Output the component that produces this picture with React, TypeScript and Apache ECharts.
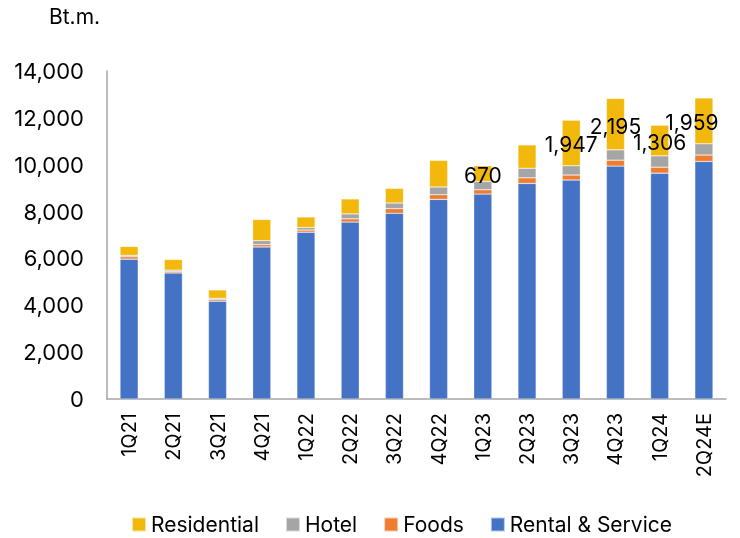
import React, { useEffect, useRef } from "react";
import * as echarts from "echarts";

const categories = ["1Q21", "2Q21", "3Q21", "4Q21", "1Q22", "2Q22", "3Q22", "4Q22", "1Q23", "2Q23", "3Q23", "4Q23", "1Q24", "2Q24E"];
const rentalService = [5970, 5380, 4175, 6490, 7120, 7550, 7925, 8520, 8745, 9200, 9345, 9940, 9640, 10140];
const foods = [100, 60, 70, 100, 90, 140, 200, 200, 185, 240, 213, 255, 255, 270];
const hotel = [60, 60, 55, 170, 110, 210, 240, 330, 355, 410, 397, 440, 483, 483];
const residential = [380, 455, 355, 900, 450, 640, 625, 1135, 670, 995, 1947, 2195, 1306, 1959];
const labeledCategories = ["1Q23", "3Q23", "4Q23", "1Q24", "2Q24E"];
const yTicks = { min: 0, max: 14000, interval: 2000 };
const unitLabel = "Bt.m.";

const FONT = "Inter, 'Noto Sans', sans-serif";
const COLORS = { rental: "#4472C4", foods: "#ED7D31", hotel: "#A5A5A5", residential: "#F2B80C" };

export default function App() {
  const ref = useRef<HTMLDivElement>(null);
  useEffect(() => {
    if (!ref.current) return;
    const chart = echarts.init(ref.current, null, { renderer: "svg" });
    const barStyle = (color: string) => ({ color, borderColor: "rgba(255,255,255,0.6)", borderWidth: 0.5 });
    const resData = residential.map((v, i) => {
      const show = labeledCategories.includes(categories[i]);
      const isLast = i === categories.length - 1;
      return {
        value: v,
        label: {
          show,
          position: "inside",
          offset: [isLast ? -12 : 0, 2],
          formatter: (p: any) => Number(p.value).toLocaleString("en-US"),
          color: "#000",
          fontSize: 21,
          fontFamily: FONT,
        },
      };
    });
    chart.setOption({
      animation: false,
      textStyle: { fontFamily: FONT },
      grid: { left: 107, right: 14, top: 71, bottom: 139, containLabel: false },
      graphic: [
        { type: "text", left: 49, top: 6, style: { text: unitLabel, fontSize: 21, fontFamily: FONT, fill: "#000" } },
      ],
      legend: {
        left: 131,
        top: 514,
        padding: 0,
        icon: "rect",
        itemWidth: 14,
        itemHeight: 14,
        itemGap: 26,
        textStyle: { fontSize: 21, fontFamily: FONT, color: "#000" },
        data: ["Residential", "Hotel", "Foods", "Rental & Service"],
      },
      xAxis: {
        type: "category",
        data: categories,
        axisLine: { show: true, lineStyle: { color: "#a6a6a6", width: 1.5 } },
        axisTick: { show: false },
        axisLabel: { rotate: 90, fontSize: 20, fontFamily: FONT, color: "#000", margin: 14, interval: 0 },
      },
      yAxis: {
        type: "value",
        min: yTicks.min,
        max: yTicks.max,
        interval: yTicks.interval,
        axisLine: { show: true, lineStyle: { color: "#a6a6a6", width: 1.5 } },
        axisTick: { show: false },
        splitLine: { show: false },
        axisLabel: {
          fontSize: 22,
          fontFamily: FONT,
          color: "#000",
          margin: 23,
          formatter: (v: number) => v.toLocaleString("en-US"),
        },
      },
      series: [
        { name: "Rental & Service", type: "bar", stack: "total", barWidth: "41%", data: rentalService, itemStyle: barStyle(COLORS.rental) },
        { name: "Foods", type: "bar", stack: "total", data: foods, itemStyle: barStyle(COLORS.foods) },
        { name: "Hotel", type: "bar", stack: "total", data: hotel, itemStyle: barStyle(COLORS.hotel) },
        { name: "Residential", type: "bar", stack: "total", data: resData, itemStyle: barStyle(COLORS.residential) },
      ],
    });
    return () => chart.dispose();
  }, []);
  return <div ref={ref} style={{ position: "fixed", left: 0, top: 0, width: 740, height: 538 }} />;
}
